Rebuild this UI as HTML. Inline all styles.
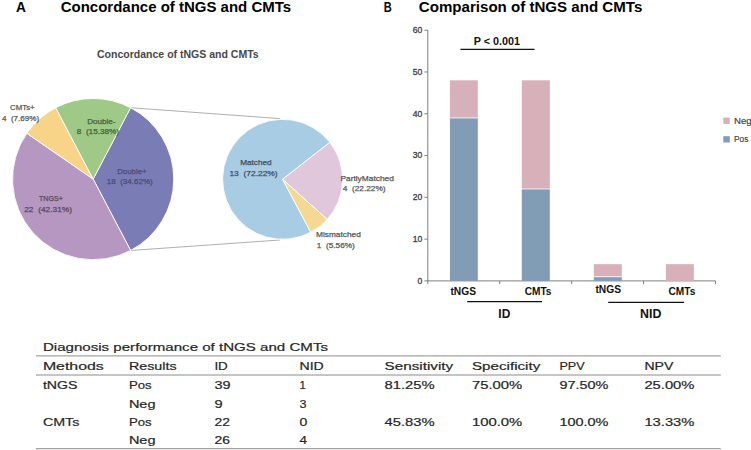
<!DOCTYPE html>
<html><head><meta charset="utf-8">
<style>
html,body{margin:0;padding:0;background:#fff;width:751px;height:450px;overflow:hidden}
svg{display:block}
text{font-family:"Liberation Sans",sans-serif}
.b{font-weight:bold}
</style></head><body>
<svg width="751" height="450" viewBox="0 0 751 450">
<rect width="751" height="450" fill="#fff"/>
<g class="b" font-size="15" fill="#000">
<text x="16" y="12" class="b" textLength="9.9" lengthAdjust="spacingAndGlyphs">A</text>
<text x="60.7" y="12" class="b" textLength="230.4" lengthAdjust="spacingAndGlyphs">Concordance of tNGS and CMTs</text>
<text x="383.7" y="12" class="b" textLength="8" lengthAdjust="spacingAndGlyphs">B</text>
<text x="418.8" y="12" class="b" textLength="223.5" lengthAdjust="spacingAndGlyphs">Comparison of tNGS and CMTs</text>
</g>
<g font-size="10.5" fill="#484848"><text x="97" y="57.5" class="b" textLength="161.7" lengthAdjust="spacingAndGlyphs">Concordance of tNGS and CMTs</text></g>
<line x1="130.60" y1="107.73" x2="280" y2="118.6" stroke="#a6a6a6" stroke-width="0.9"/>
<line x1="130.60" y1="250.47" x2="280" y2="240" stroke="#a6a6a6" stroke-width="0.9"/>
<g stroke="#fff" stroke-width="0.9">
<path d="M93.15,179.10 L130.60,107.73 A80.6,80.6 0 0 1 130.60,250.47 Z" fill="#7a7db5"/>
<path d="M93.15,179.10 L130.60,250.47 A80.6,80.6 0 0 1 26.83,133.29 Z" fill="#b597c2"/>
<path d="M93.15,179.10 L26.83,133.29 A80.6,80.6 0 0 1 55.70,107.73 Z" fill="#f8d488"/>
<path d="M93.15,179.10 L55.70,107.73 A80.6,80.6 0 0 1 130.60,107.73 Z" fill="#9ec986"/>
<path d="M282.60,179.30 L310.77,232.28 A60,60 0 1 1 329.88,142.36 Z" fill="#a8cce4"/>
<path d="M282.60,179.30 L329.88,142.36 A60,60 0 0 1 327.19,219.45 Z" fill="#e1c7dc"/>
<path d="M282.60,179.30 L327.19,219.45 A60,60 0 0 1 310.77,232.28 Z" fill="#f5d992"/>
</g>
<g font-size="7.5" fill="#595959" stroke="#595959" stroke-width="0.25">
<text x="10" y="109.5" textLength="24.7" lengthAdjust="spacingAndGlyphs">CMTs+</text>
<text x="2" y="120.6" textLength="37.1" lengthAdjust="spacingAndGlyphs">4  (7.69%)</text>
</g>
<g font-size="7.5" fill="#4a6040" stroke="#4a6040" stroke-width="0.25">
<text x="87.2" y="123.6" textLength="28.3" lengthAdjust="spacingAndGlyphs">Double-</text>
<text x="76.8" y="134.4" textLength="42.3" lengthAdjust="spacingAndGlyphs">8  (15.38%)</text>
</g>
<g font-size="7.5" fill="#4c4c74" stroke="#4c4c74" stroke-width="0.25">
<text x="117.2" y="173.6" textLength="29.5" lengthAdjust="spacingAndGlyphs">Double+</text>
<text x="106.8" y="184.4" textLength="45.9" lengthAdjust="spacingAndGlyphs">18  (34.62%)</text>
</g>
<g font-size="7.5" fill="#5a4860" stroke="#5a4860" stroke-width="0.25">
<text x="39" y="200.8" textLength="23.9" lengthAdjust="spacingAndGlyphs">TNGS+</text>
<text x="24.2" y="211.6" textLength="47.9" lengthAdjust="spacingAndGlyphs">22  (42.31%)</text>
</g>
<g font-size="7.5" fill="#44505a" stroke="#44505a" stroke-width="0.25">
<text x="240.2" y="165.2" textLength="31.5" lengthAdjust="spacingAndGlyphs">Matched</text>
<text x="229.4" y="176" textLength="48.3" lengthAdjust="spacingAndGlyphs">13  (72.22%)</text>
</g>
<g font-size="7.5" fill="#595959" stroke="#595959" stroke-width="0.25">
<text x="340.4" y="180.6" textLength="53.5" lengthAdjust="spacingAndGlyphs">PartlyMatched</text>
<text x="342.8" y="191" textLength="42.7" lengthAdjust="spacingAndGlyphs">4  (22.22%)</text>
<text x="316" y="237" textLength="44.8" lengthAdjust="spacingAndGlyphs">Mismatched</text>
<text x="316.8" y="247.8" textLength="38" lengthAdjust="spacingAndGlyphs">1  (5.56%)</text>
</g>
<g stroke="#7f7f7f" stroke-width="1" fill="none">
<line x1="427.8" y1="30" x2="427.8" y2="281.4"/>
<line x1="427.3" y1="280.9" x2="715.5" y2="280.9"/>
<line x1="424.4" y1="280.90" x2="427.8" y2="280.90"/>
<line x1="424.4" y1="239.12" x2="427.8" y2="239.12"/>
<line x1="424.4" y1="197.33" x2="427.8" y2="197.33"/>
<line x1="424.4" y1="155.55" x2="427.8" y2="155.55"/>
<line x1="424.4" y1="113.77" x2="427.8" y2="113.77"/>
<line x1="424.4" y1="71.98" x2="427.8" y2="71.98"/>
<line x1="424.4" y1="30.20" x2="427.8" y2="30.20"/>
<line x1="427.8" y1="280.9" x2="427.8" y2="284"/>
<line x1="499.7" y1="280.9" x2="499.7" y2="284"/>
<line x1="571.6" y1="280.9" x2="571.6" y2="284"/>
<line x1="643.5" y1="280.9" x2="643.5" y2="284"/>
<line x1="715.5" y1="280.9" x2="715.5" y2="284"/>
</g>
<g font-size="8.6" fill="#404040" stroke="#404040" stroke-width="0.3" text-anchor="end">
<text x="422.2" y="283.70">0</text>
<text x="422.2" y="241.92">10</text>
<text x="422.2" y="200.13">20</text>
<text x="422.2" y="158.35">30</text>
<text x="422.2" y="116.57">40</text>
<text x="422.2" y="74.78">50</text>
<text x="422.2" y="33.00">60</text>
</g>
<rect x="450" y="117.94" width="27.8" height="162.95" fill="#819db6"/>
<rect x="450" y="80.34" width="27.8" height="37.60" fill="#d7b0b9"/>
<line x1="450" y1="117.94" x2="477.8" y2="117.94" stroke="#fff" stroke-width="0.8"/>
<rect x="521.8" y="188.98" width="28" height="91.92" fill="#819db6"/>
<rect x="521.8" y="80.34" width="28" height="108.64" fill="#d7b0b9"/>
<line x1="521.8" y1="188.98" x2="549.8" y2="188.98" stroke="#fff" stroke-width="0.8"/>
<rect x="593.8" y="276.72" width="28" height="4.18" fill="#819db6"/>
<rect x="593.8" y="264.19" width="28" height="12.53" fill="#d7b0b9"/>
<line x1="593.8" y1="276.72" x2="621.8" y2="276.72" stroke="#fff" stroke-width="0.8"/>
<rect x="666" y="264.19" width="27.8" height="16.71" fill="#d7b0b9"/>
<g font-size="9.7" fill="#111">
<text x="473.8" y="44.8" class="b" textLength="46.2" lengthAdjust="spacingAndGlyphs" font-size="10.5">P &lt; 0.001</text>
<text x="450.4" y="295.2" class="b" textLength="25.6" lengthAdjust="spacingAndGlyphs" font-size="10.4">tNGS</text>
<text x="524.7" y="295.2" class="b" textLength="26.8" lengthAdjust="spacingAndGlyphs" font-size="10.4">CMTs</text>
<text x="595.4" y="293.4" class="b" textLength="25.6" lengthAdjust="spacingAndGlyphs" font-size="10.4">tNGS</text>
<text x="668.4" y="295.2" class="b" textLength="26.9" lengthAdjust="spacingAndGlyphs" font-size="10.4">CMTs</text>
</g>
<g stroke="#111" stroke-width="1.4">
<line x1="460.5" y1="49.4" x2="534.5" y2="49.4"/>
<line x1="467.2" y1="301.6" x2="542" y2="301.6"/>
<line x1="608.2" y1="302.4" x2="684.1" y2="302.4"/>
</g>
<g font-size="12.8" fill="#111">
<text x="498.3" y="317.9" class="b" textLength="12" lengthAdjust="spacingAndGlyphs">ID</text>
<text x="640.1" y="317.9" class="b" textLength="21.3" lengthAdjust="spacingAndGlyphs">NID</text>
</g>
<rect x="723.3" y="117.6" width="6.5" height="6.3" fill="#d7b0b9"/>
<rect x="723.3" y="136.2" width="6.5" height="6.3" fill="#819db6"/>
<g font-size="9.2" fill="#404040" stroke="#404040" stroke-width="0.15">
<text x="734" y="123.8" textLength="17.6" lengthAdjust="spacingAndGlyphs">Neg</text>
<text x="734" y="142.4" textLength="14.4" lengthAdjust="spacingAndGlyphs">Pos</text>
</g>
<g stroke="#8c8c8c" stroke-width="1">
<line x1="36" y1="355.9" x2="720.8" y2="355.9"/>
<line x1="36" y1="375" x2="720.8" y2="375"/>
<line x1="36" y1="448.7" x2="720.8" y2="448.7"/>
</g>
<g font-size="11.5" fill="#262626" stroke="#262626" stroke-width="0.2">
<text x="42.9" y="351" textLength="285.1" lengthAdjust="spacingAndGlyphs">Diagnosis performance of tNGS and CMTs</text>
<text x="42.9" y="369.9" textLength="60.8" lengthAdjust="spacingAndGlyphs">Methods</text>
<text x="128.9" y="369.9" textLength="47.7" lengthAdjust="spacingAndGlyphs">Results</text>
<text x="214.4" y="369.9" textLength="13.4" lengthAdjust="spacingAndGlyphs">ID</text>
<text x="299.5" y="369.9" textLength="24.3" lengthAdjust="spacingAndGlyphs">NID</text>
<text x="384.5" y="369.9" textLength="68.7" lengthAdjust="spacingAndGlyphs">Sensitivity</text>
<text x="472" y="369.9" textLength="68.3" lengthAdjust="spacingAndGlyphs">Specificity</text>
<text x="559.4" y="369.9" textLength="25.3" lengthAdjust="spacingAndGlyphs">PPV</text>
<text x="644.4" y="369.9" textLength="28.9" lengthAdjust="spacingAndGlyphs">NPV</text>
<text x="42.9" y="388.7" textLength="34.6" lengthAdjust="spacingAndGlyphs">tNGS</text>
<text x="128.9" y="388.7" textLength="22.8" lengthAdjust="spacingAndGlyphs">Pos</text>
<text x="214.4" y="388.7" textLength="16.1" lengthAdjust="spacingAndGlyphs">39</text>
<text x="299.5" y="388.7" textLength="6.3" lengthAdjust="spacingAndGlyphs">1</text>
<text x="384.5" y="388.7" textLength="50.1" lengthAdjust="spacingAndGlyphs">81.25%</text>
<text x="472" y="388.7" textLength="50.3" lengthAdjust="spacingAndGlyphs">75.00%</text>
<text x="559.4" y="388.7" textLength="49" lengthAdjust="spacingAndGlyphs">97.50%</text>
<text x="644.4" y="388.7" textLength="50" lengthAdjust="spacingAndGlyphs">25.00%</text>
<text x="128.9" y="407.5" textLength="26.6" lengthAdjust="spacingAndGlyphs">Neg</text>
<text x="214.4" y="407.5" textLength="8.1" lengthAdjust="spacingAndGlyphs">9</text>
<text x="299.5" y="407.5" textLength="7" lengthAdjust="spacingAndGlyphs">3</text>
<text x="42.9" y="425.8" textLength="36.5" lengthAdjust="spacingAndGlyphs">CMTs</text>
<text x="128.9" y="425.8" textLength="22.8" lengthAdjust="spacingAndGlyphs">Pos</text>
<text x="214.4" y="425.8" textLength="15.5" lengthAdjust="spacingAndGlyphs">22</text>
<text x="299.5" y="425.8" textLength="7.8" lengthAdjust="spacingAndGlyphs">0</text>
<text x="384.5" y="425.8" textLength="50.1" lengthAdjust="spacingAndGlyphs">45.83%</text>
<text x="472" y="425.8" textLength="50.3" lengthAdjust="spacingAndGlyphs">100.0%</text>
<text x="559.4" y="425.8" textLength="49" lengthAdjust="spacingAndGlyphs">100.0%</text>
<text x="644.4" y="425.8" textLength="50" lengthAdjust="spacingAndGlyphs">13.33%</text>
<text x="128.9" y="443.8" textLength="26.6" lengthAdjust="spacingAndGlyphs">Neg</text>
<text x="214.4" y="443.8" textLength="15.5" lengthAdjust="spacingAndGlyphs">26</text>
<text x="299.5" y="443.8" textLength="7.5" lengthAdjust="spacingAndGlyphs">4</text>
</g>
</svg>
</body></html>
